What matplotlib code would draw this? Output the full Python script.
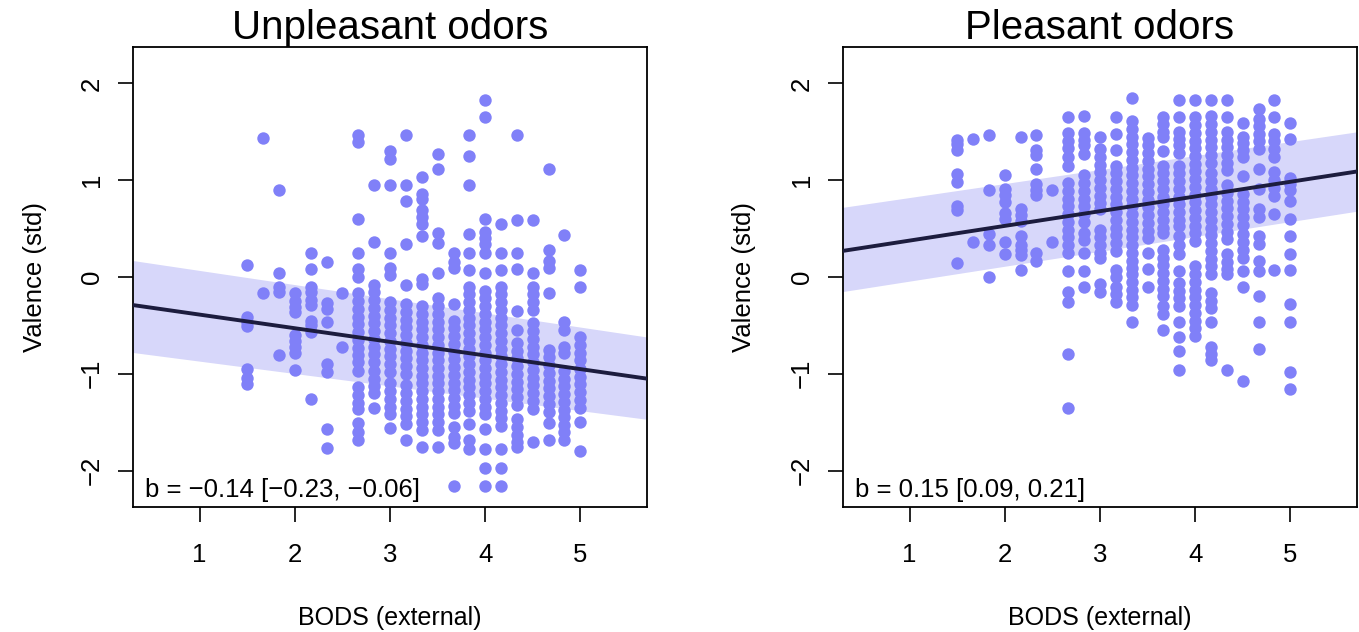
#scatter of valence vs BODS, two panels
import matplotlib
matplotlib.use('Agg')
import matplotlib.pyplot as plt

plt.rcParams['font.family'] = ['Liberation Sans', 'DejaVu Sans']

bods_levels = [1.5, 1.667, 1.833, 2.0, 2.167, 2.333, 2.5, 2.667, 2.833, 3.0, 3.167,
               3.333, 3.5, 3.667, 3.833, 4.0, 4.167, 4.333, 4.5, 4.667, 4.833, 5.0]

# valence values read per BODS column (unpleasant odors)
unpleasant_valence = [
    [0.12, -0.41, -0.47, -0.51, -0.95, -1.04, -1.11],
    [1.44, -0.17],
    [0.9, 0.04, -0.1, -0.15, -0.81],
    [-0.17, -0.25, -0.31, -0.36, -0.6, -0.66, -0.72, -0.78, -0.96],
    [0.25, 0.08, -0.1, -0.15, -0.24, -0.29, -0.45, -0.5, -0.57, -1.26],
    [0.15, -0.27, -0.33, -0.46, -0.9, -0.98, -1.57, -1.77],
    [-0.17, -0.72],
    [1.47, 1.39, 0.6, 0.25, 0.08, 0.0, -0.17, -0.25, -0.33, -0.41, -0.49, -0.57,
     -0.65, -0.73, -0.81, -0.88, -0.97, -1.14, -1.22, -1.3, -1.36, -1.51, -1.6, -1.68],
    [0.95, 0.36, -0.08, -0.16, -0.24, -0.32, -0.4, -0.48, -0.56, -0.64, -0.72, -0.8,
     -0.88, -0.97, -1.05, -1.13, -1.2, -1.35],
    [1.3, 1.22, 0.95, 0.25, 0.09, 0.02, -0.26, -0.34, -0.42, -0.5, -0.58, -0.66,
     -0.74, -0.82, -0.9, -0.98, -1.1, -1.18, -1.26, -1.34, -1.42, -1.56],
    [1.47, 0.95, 0.79, 0.34, -0.08, -0.28, -0.36, -0.44, -0.52, -0.6, -0.68, -0.76,
     -0.84, -0.92, -1.0, -1.12, -1.2, -1.28, -1.36, -1.44, -1.52, -1.68],
    [1.03, 0.86, 0.81, 0.69, 0.62, 0.55, 0.42, -0.02, -0.07, -0.3, -0.38, -0.46,
     -0.54, -0.62, -0.7, -0.78, -0.86, -0.94, -1.02, -1.1, -1.18, -1.26, -1.34,
     -1.42, -1.5, -1.58, -1.76],
    [1.27, 1.12, 0.45, 0.35, 0.04, -0.22, -0.3, -0.38, -0.46, -0.54, -0.62, -0.7,
     -0.78, -0.86, -0.94, -1.02, -1.1, -1.18, -1.26, -1.34, -1.42, -1.5, -1.58, -1.76],
    [0.25, 0.15, 0.09, -0.28, -0.45, -0.53, -0.61, -0.69, -0.77, -0.85, -0.93,
     -1.01, -1.09, -1.17, -1.25, -1.33, -1.41, -1.55, -1.65, -1.72, -2.16],
    [1.47, 1.25, 0.95, 0.44, 0.25, 0.07, -0.1, -0.18, -0.26, -0.34, -0.42, -0.5,
     -0.58, -0.66, -0.74, -0.82, -0.9, -0.98, -1.06, -1.14, -1.22, -1.3, -1.38,
     -1.52, -1.68, -1.78],
    [1.83, 1.65, 0.6, 0.46, 0.4, 0.34, 0.25, 0.04, -0.14, -0.22, -0.3, -0.38, -0.46,
     -0.54, -0.62, -0.7, -0.78, -0.86, -0.94, -1.02, -1.1, -1.18, -1.26, -1.34,
     -1.42, -1.57, -1.78, -1.97, -2.16],
    [0.55, 0.25, 0.07, -0.1, -0.18, -0.26, -0.34, -0.42, -0.5, -0.58, -0.66, -0.74,
     -0.82, -0.9, -0.98, -1.06, -1.14, -1.22, -1.3, -1.38, -1.46, -1.54, -1.78,
     -1.97, -2.16],
    [1.47, 0.59, 0.25, 0.08, -0.35, -0.55, -0.68, -0.76, -0.84, -0.92, -1.0, -1.08,
     -1.16, -1.24, -1.32, -1.47, -1.55, -1.63, -1.7, -1.76],
    [0.59, 0.04, -0.1, -0.18, -0.26, -0.34, -0.48, -0.56, -0.64, -0.72, -0.8, -0.88,
     -0.96, -1.04, -1.12, -1.2, -1.28, -1.36, -1.7],
    [1.12, 0.28, 0.17, 0.09, -0.17, -0.75, -0.83, -0.91, -0.99, -1.07, -1.15, -1.23,
     -1.31, -1.39, -1.51, -1.68],
    [0.43, -0.46, -0.55, -0.72, -0.78, -0.97, -1.05, -1.13, -1.21, -1.29, -1.37,
     -1.45, -1.53, -1.6, -1.68],
    [0.07, -0.1, -0.62, -0.7, -0.78, -0.86, -0.95, -1.03, -1.11, -1.19, -1.27, -1.35,
     -1.5, -1.8],
]

# valence values read per BODS column (pleasant odors)
pleasant_valence = [
    [1.42, 1.37, 1.31, 1.06, 0.98, 0.73, 0.69, 0.14],
    [1.43, 0.36],
    [1.47, 0.9, 0.44, 0.33, 0.0],
    [1.05, 0.91, 0.85, 0.78, 0.66, 0.6, 0.36, 0.24],
    [1.45, 0.7, 0.64, 0.58, 0.42, 0.33, 0.28, 0.23, 0.07],
    [1.47, 1.31, 1.26, 1.12, 0.96, 0.9, 0.85, 0.25, 0.17],
    [0.9, 0.36],
    [1.65, 1.49, 1.41, 1.33, 1.24, 1.15, 0.97, 0.89, 0.81, 0.73, 0.65, 0.57, 0.49,
     0.41, 0.33, 0.25, 0.06, -0.16, -0.26, -0.8, -1.35],
    [1.66, 1.49, 1.42, 1.36, 1.27, 1.05, 0.97, 0.89, 0.81, 0.73, 0.65, 0.57, 0.45,
     0.38, 0.25, 0.06, -0.1],
    [1.45, 1.32, 1.24, 1.16, 1.08, 1.0, 0.92, 0.84, 0.76, 0.7, 0.49, 0.41, 0.33,
     0.25, 0.2, -0.07, -0.15],
    [1.65, 1.48, 1.31, 1.15, 1.07, 0.99, 0.91, 0.83, 0.75, 0.67, 0.59, 0.51, 0.43,
     0.35, 0.27, 0.07, 0.0, -0.1, -0.18, -0.26],
    [1.85, 1.61, 1.53, 1.45, 1.37, 1.29, 1.21, 1.13, 1.05, 0.97, 0.89, 0.81, 0.73,
     0.65, 0.57, 0.49, 0.41, 0.33, 0.25, 0.17, 0.09, 0.03, -0.05, -0.13, -0.21,
     -0.29, -0.46],
    [1.44, 1.36, 1.28, 1.2, 1.12, 1.04, 0.96, 0.88, 0.8, 0.72, 0.64, 0.56, 0.48,
     0.4, 0.25, 0.08, -0.1],
    [1.65, 1.58, 1.5, 1.45, 1.3, 1.15, 1.07, 0.99, 0.91, 0.83, 0.75, 0.67, 0.59,
     0.51, 0.45, 0.28, 0.2, 0.12, 0.04, -0.04, -0.12, -0.2, -0.3, -0.38, -0.55],
    [1.83, 1.65, 1.5, 1.43, 1.36, 1.28, 1.15, 1.07, 0.99, 0.91, 0.83, 0.75, 0.67,
     0.59, 0.53, 0.42, 0.33, 0.24, 0.06, -0.06, -0.14, -0.22, -0.3, -0.46, -0.62,
     -0.76, -0.96],
    [1.83, 1.65, 1.57, 1.49, 1.41, 1.33, 1.25, 1.17, 1.09, 1.01, 0.93, 0.85, 0.77,
     0.69, 0.61, 0.53, 0.45, 0.37, 0.11, 0.03, -0.05, -0.13, -0.21, -0.29, -0.37,
     -0.45, -0.53, -0.61],
    [1.83, 1.66, 1.58, 1.5, 1.42, 1.34, 1.26, 1.18, 1.07, 0.99, 0.91, 0.83, 0.75,
     0.67, 0.59, 0.51, 0.43, 0.35, 0.27, 0.19, 0.11, 0.03, -0.17, -0.25, -0.32,
     -0.47, -0.72, -0.8, -0.86],
    [1.83, 1.65, 1.5, 1.42, 1.34, 1.26, 1.18, 1.11, 0.95, 0.87, 0.79, 0.71, 0.63,
     0.55, 0.47, 0.39, 0.24, 0.16, 0.08, 0.03, -0.96],
    [1.59, 1.45, 1.38, 1.31, 1.24, 1.04, 0.86, 0.78, 0.7, 0.62, 0.54, 0.44, 0.36,
     0.28, 0.2, 0.06, -0.1, -1.07],
    [1.74, 1.63, 1.56, 1.48, 1.4, 1.32, 1.12, 0.91, 0.7, 0.62, 0.42, 0.34, 0.17,
     0.06, -0.2, -0.46, -0.74],
    [1.83, 1.65, 1.48, 1.4, 1.32, 1.24, 1.08, 1.0, 0.92, 0.84, 0.65, 0.07],
    [1.59, 1.43, 1.02, 0.96, 0.9, 0.79, 0.6, 0.42, 0.24, 0.07, -0.28, -0.46, -0.98,
     -1.16],
]

# regression line and band at the two ends of the x range
fit_x = [0.3, 5.7]
unpleasant_fit = [-0.29, -1.05]
unpleasant_lo = [-0.78, -1.47]
unpleasant_hi = [0.17, -0.62]
pleasant_fit = [0.27, 1.09]
pleasant_lo = [-0.15, 0.68]
pleasant_hi = [0.72, 1.5]

titles = ['Unpleasant odors', 'Pleasant odors']
b_labels = ['b = \u22120.14 [\u22120.23, \u22120.06]', 'b = 0.15 [0.09, 0.21]']
x_ticks = [1, 2, 3, 4, 5]
y_ticks = [-2, -1, 0, 1, 2]
y_tick_labels = ['\u22122', '\u22121', '0', '1', '2']

point_col = '#8080f8'
band_col = '#d7d7fa'
line_col = '#1c1c3e'


def panel(ax, valence, fit, lo, hi, title, b_text):
    ax.fill_between(fit_x, lo, hi, color=band_col, linewidth=0, zorder=1)
    for xv, ys in zip(bods_levels, valence):
        ax.scatter([xv] * len(ys), ys, s=80, color=point_col, linewidths=0, zorder=2)
    ax.plot(fit_x, fit, color=line_col, linewidth=2.8, zorder=3)
    ax.set_xlim(0.3, 5.7)
    ax.set_ylim(-2.376, 2.376)
    ax.set_xticks(x_ticks)
    ax.set_yticks(y_ticks)
    ax.set_yticklabels(y_tick_labels, rotation=90, va='center')
    ax.tick_params(axis='both', labelsize=18.5, length=11, width=1.2, direction='out')
    ax.tick_params(axis='x', pad=15)
    ax.tick_params(axis='y', pad=10)
    for sp in ax.spines.values():
        sp.set_linewidth(1.3)
    ax.set_title(title, fontsize=29, pad=3)
    ax.set_xlabel('BODS (external)', fontsize=18, labelpad=28)
    ax.set_ylabel('Valence (std)', fontsize=18.5, labelpad=24)
    ax.text(0.024, 0.037, b_text, transform=ax.transAxes, fontsize=18.5,
            ha='left', va='center')


def main():
    fig = plt.figure(figsize=(13.59, 6.32), dpi=100)
    ax1 = fig.add_axes([0.0979, 0.1978, 0.3782, 0.7278])
    ax2 = fig.add_axes([0.6203, 0.1978, 0.3782, 0.7278])
    panel(ax1, unpleasant_valence, unpleasant_fit, unpleasant_lo, unpleasant_hi,
          titles[0], b_labels[0])
    panel(ax2, pleasant_valence, pleasant_fit, pleasant_lo, pleasant_hi,
          titles[1], b_labels[1])
    fig.savefig('out.png', dpi=100)


main()
